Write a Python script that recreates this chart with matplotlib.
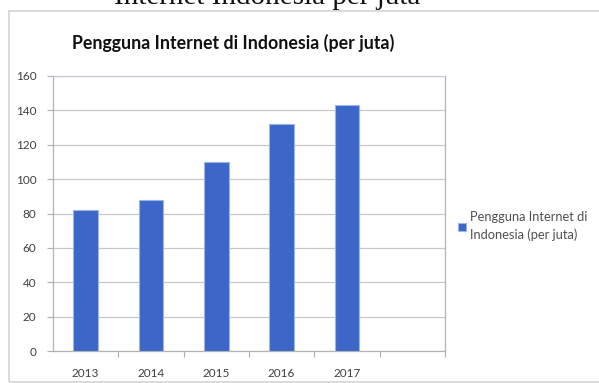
import matplotlib
matplotlib.use("Agg")
import matplotlib.pyplot as plt
from matplotlib.patches import Rectangle

categories = ["2013", "2014", "2015", "2016", "2017", ""]
values = [82, 88, 110, 132, 143, None]
series_name = "Pengguna Internet di\nIndonesia (per juta)"
title = "Pengguna Internet di Indonesia (per juta)"
caption = "Internet Indonesia per juta"
yticks = [0, 20, 40, 60, 80, 100, 120, 140, 160]

FONT = "Lato"

W, H = 599, 383
fig = plt.figure(figsize=(W / 100, H / 100), dpi=100)
fig.patch.set_facecolor("white")

# Chart area border
fig.patches.append(Rectangle((9 / W, 1 - 382 / H), (W + 5 - 9) / W, (382 - 11) / H,
                             transform=fig.transFigure, fill=False,
                             edgecolor="#D4D4D4", linewidth=1.2, zorder=0))

# cut-off caption above
fig.text(267 / W, 1 - 4 / H, caption, ha="center", va="baseline",
         fontsize=21, family="Liberation Serif", color="#111111")

# title
fig.text(233 / W, 1 - 49 / H, title, ha="center", va="baseline",
         fontsize=12.8, family=FONT, fontweight="bold", color="#111111")

ax = fig.add_axes([53 / W, 1 - 351 / H, (445 - 53) / W, (351 - 76) / H])
xs = list(range(len(categories)))
bx = [x for x, v in zip(xs, values) if v is not None]
bv = [v for v in values if v is not None]
bars = ax.bar(bx, bv, width=0.38, color="#3C66C7", edgecolor="#9DB5EA",
              linewidth=0.8, zorder=3, label=series_name)

ax.set_xlim(-0.5, len(categories) - 0.5)
ax.set_ylim(0, 160)
ax.set_yticks(yticks)
ax.set_yticklabels([str(t) for t in yticks], family=FONT,
                   fontsize=8.5, color="#404040")
ax.set_xticks(xs[:5])
ax.set_xticklabels(categories[:5], family=FONT, fontsize=8.5,
                   color="#404040")
ax.set_xticks([x + 0.5 for x in xs], minor=True)
ax.tick_params(axis="x", which="major", length=0, pad=12)
ax.tick_params(axis="x", which="minor", length=4, color="#B0B0B0", width=0.8)
ax.tick_params(axis="y", length=4, color="#B0B0B0", width=0.8, pad=8)

ax.grid(axis="y", color="#C8C8C8", linewidth=0.9, zorder=0)
for s in ["left", "bottom", "right"]:
    ax.spines[s].set_color("#B4B4B4")
    ax.spines[s].set_linewidth(0.9)
ax.spines["top"].set_color("#C8C8D8")
ax.spines["top"].set_linewidth(0.9)

leg = fig.legend(handles=[bars], labels=[series_name],
                 loc="upper left", bbox_to_anchor=(452 / W, 1 - 205 / H),
                 frameon=False, handlelength=0.6,
                 handleheight=0.6, handletextpad=0.3, borderpad=0,
                 prop={"family": FONT, "size": 9.3})
for t in leg.get_texts():
    t.set_color("#505050")
    t.set_linespacing(1.5)

fig.savefig("out.png", dpi=100)
